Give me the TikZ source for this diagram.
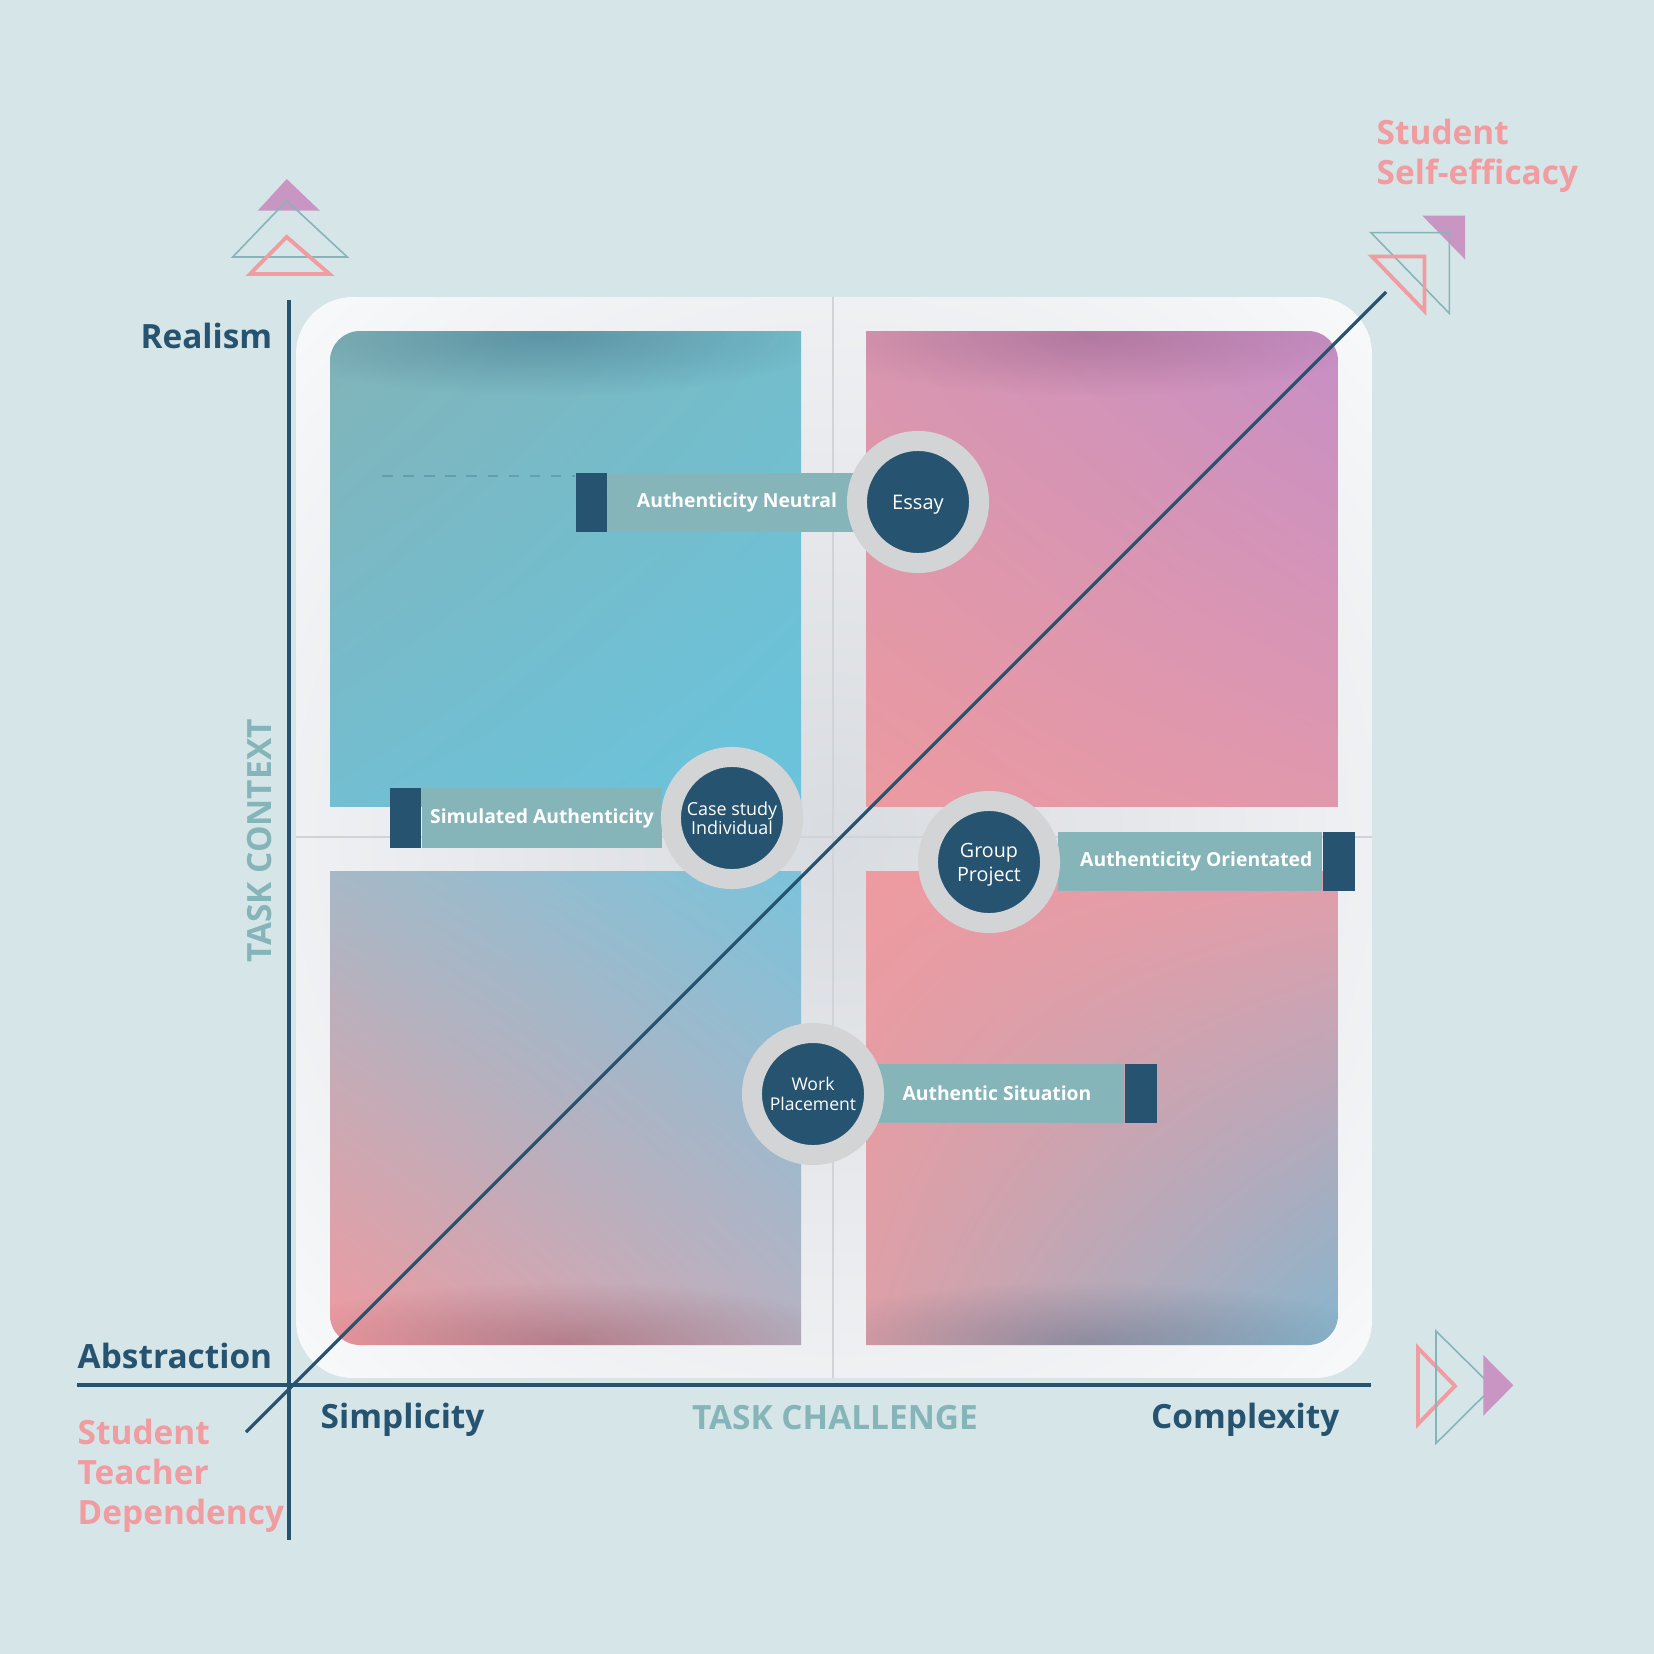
\documentclass[tikz,border=0pt]{standalone}
\usepackage{fontspec}
\setmainfont{Open Sans}
\usetikzlibrary{fadings,shadings}

\definecolor{bgblue}{HTML}{D6E5E8}
\definecolor{navy}{HTML}{26536F}
\definecolor{barteal}{HTML}{85B5B9}
\definecolor{rose}{HTML}{F09CA0}
\definecolor{mauve}{HTML}{C996C3}
\definecolor{ringgray}{HTML}{D2D4D6}
\definecolor{framewhite}{HTML}{F7F8FA}
\definecolor{lanegray}{HTML}{D9DCE0}
\definecolor{laneline}{HTML}{D0D3D7}
% quadrant corners
\definecolor{tlA}{HTML}{82B3B8}\definecolor{tlB}{HTML}{74BDCB}\definecolor{tlC}{HTML}{73BED1}\definecolor{tlD}{HTML}{69C4DD}
\definecolor{trA}{HTML}{D896B0}\definecolor{trB}{HTML}{C78FC6}\definecolor{trC}{HTML}{EB9AA0}\definecolor{trD}{HTML}{E098AD}
\definecolor{blA}{HTML}{A7B8C6}\definecolor{blB}{HTML}{7BC3DB}\definecolor{blC}{HTML}{EF9AA0}\definecolor{blD}{HTML}{B8B2C2}
\definecolor{brA}{HTML}{EE9AA0}\definecolor{brB}{HTML}{E49DAA}\definecolor{brC}{HTML}{DCA0A8}\definecolor{brD}{HTML}{86B6CD}
\definecolor{trshadow}{HTML}{7A4A70}
\definecolor{blshadow}{HTML}{7A3848}
\definecolor{brshadow}{HTML}{3A4A66}

\tikzfading[name=soft glow, inner color=transparent!0, outer color=transparent!100]

\begin{document}
\begin{tikzpicture}[x=0.01cm,y=-0.01cm,
    ring/.style={circle,fill=navy,draw=ringgray,line width=0.2cm,minimum size=1.22cm,inner sep=0pt,text=white,align=center},
    bar/.style={fill=barteal,minimum height=0.59cm,inner sep=0pt,text=white,font=\fontsize{5.5}{6.5}\selectfont\bfseries},
    endblock/.style={fill=navy,minimum height=0.59cm,minimum width=0.31cm,inner sep=0pt},
    axislabel/.style={inner sep=0pt,text=navy,font=\fontsize{9.5}{11.4}\selectfont\bfseries},
    axistitle/.style={inner sep=0pt,text=barteal,font=\fontsize{9.5}{11.4}\selectfont\bfseries},
    effect/.style={inner sep=0pt,text=rose,align=left,font=\fontsize{9.5}{11.3}\selectfont\bfseries}]
  \fill[bgblue] (0,0) rectangle (1654,1654);
  \useasboundingbox (0,0) rectangle (1654,1654);

  % frame and lanes
  \begin{scope}
    \clip[rounded corners=0.57cm] (296,297) rectangle (1372,1378);
    \fill[framewhite] (296,297) rectangle (1372,1378);
    \fill[lanegray, path fading=soft glow] (834,838) ellipse [x radius=720, y radius=720];
    \draw[laneline, line width=0.8pt] (833,297) -- (833,1378);
    \draw[laneline, line width=0.8pt] (296,837) -- (1372,837);
  \end{scope}

  % quadrants
  \begin{scope}
    \clip (330,331) rectangle (801,806);
    \clip[rounded corners=0.3cm] (330,331) rectangle (841,846);
    \shade[upper left=tlA, upper right=tlB, lower left=tlC, lower right=tlD] (330,331) rectangle (801,806);
    \fill[navy, opacity=0.35, path fading=soft glow] (545,336) ellipse [x radius=290, y radius=60];
  \end{scope}
  \begin{scope}
    \clip (866,331) rectangle (1338,806);
    \clip[rounded corners=0.3cm] (826,331) rectangle (1338,846);
    \shade[upper left=trA, upper right=trB, lower left=trC, lower right=trD] (866,331) rectangle (1338,806);
    \fill[trshadow, opacity=0.35, path fading=soft glow] (1090,336) ellipse [x radius=290, y radius=60];
  \end{scope}
  \begin{scope}
    \clip (330,871) rectangle (801,1345);
    \clip[rounded corners=0.3cm] (330,831) rectangle (841,1345);
    \shade[upper left=blA, upper right=blB, lower left=blC, lower right=blD] (330,871) rectangle (801,1345);
    \fill[blshadow, opacity=0.35, path fading=soft glow] (565,1342) ellipse [x radius=300, y radius=60];
  \end{scope}
  \begin{scope}
    \clip (866,871) rectangle (1338,1345);
    \clip[rounded corners=0.3cm] (826,831) rectangle (1338,1345);
    \shade[upper left=brA, upper right=brB, lower left=brC, lower right=brD] (866,871) rectangle (1338,1345);
    \fill[brshadow, opacity=0.3, path fading=soft glow] (1085,1342) ellipse [x radius=300, y radius=60];
  \end{scope}

  % axes
  \coordinate (ytop) at (289,300);
  \coordinate (ybottom) at (289,1540);
  \coordinate (xleft) at (77,1385);
  \coordinate (xright) at (1371,1385);
  \coordinate (dstart) at (246,1432);
  \coordinate (dend) at (1386,292);
  \draw[navy, line width=1pt] (ytop) -- (ybottom);
  \draw[navy, line width=1pt] (xleft) -- (xright);
  \draw[navy, line width=0.9pt] (dstart) -- (dend);

  % tasks
  \node[bar, minimum width=2.58cm] (neutral) at (737,502.5) {Authenticity Neutral};
  \node[endblock, anchor=east] (neutralend) at (neutral.west) {};
  \coordinate (dashstart) at (382,476);
  \draw[navy, opacity=0.25, dashed, line width=0.4pt] (dashstart) -- (dashstart -| neutralend.west);
  \node[ring, text depth=0pt, font=\fontsize{5.7}{6.5}\selectfont] (essay) at (918,502) {Essay};

  \node[bar, minimum width=2.40cm] (simulated) at (542,818) {Simulated Authenticity};
  \node[endblock, anchor=east] (simulatedend) at (simulated.west) {};
  \node[ring, font=\fontsize{5.1}{5.4}\selectfont] (casestudy) at (732,818) {Case study\\Individual};

  \node[bar, minimum width=2.64cm] (orientated) at (1190,861.5) {\hspace*{0.126cm}Authenticity Orientated};
  \node[endblock, anchor=west] (orientatedend) at (orientated.east) {};
  \node[ring, text depth=0pt, font=\fontsize{5.6}{6.9}\selectfont] (group) at (989,862) {Group\\Project};

  \node[bar, minimum width=2.54cm] (situation) at (997,1093.5) {Authentic Situation};
  \node[endblock, anchor=west] (situationend) at (situation.east) {};
  \node[ring, font=\fontsize{5.0}{5.7}\selectfont] (work) at (813,1094) {Work\\Placement};

  % labels
  \node[axislabel, anchor=east] (realism) at (273,336) {Realism};
  \node[axislabel, anchor=west] (abstraction) at (77,1356) {Abstraction};
  \node[axislabel, anchor=west] (simplicity) at (320,1420) {Simplicity};
  \node[axislabel, anchor=east] (complexity) at (1340,1420) {Complexity};
  \node[axistitle] (challenge) at (835,1418) {TASK CHALLENGE};
  \node[axistitle, rotate=90] (context) at (260,841) {TASK CONTEXT};
  \node[effect, anchor=west] (dependency) at (77,1476) {Student\\Teacher\\Dependency};
  \node[effect, anchor=west] (efficacy) at (1376,155.5) {Student\\Self-efficacy};

  % arrow marks
  \fill[mauve] (286.7,179) -- (257.7,210.7) -- (320,210.7) -- cycle;
  \draw[barteal, line width=0.45pt] (286.7,200.7) -- (232.7,257) -- (347.3,257) -- cycle;
  \draw[rose, line width=1.1pt] (286.7,237) -- (250,274) -- (329.5,274) -- cycle;

  \fill[mauve] (1422.3,215.7) -- (1465,215.7) -- (1465,259.3) -- cycle;
  \draw[barteal, line width=0.45pt] (1371,232.7) -- (1449.3,232.7) -- (1449.3,313.3) -- cycle;
  \draw[rose, line width=1.1pt] (1372,256.5) -- (1424.5,256.5) -- (1424.5,311) -- cycle;

  \draw[rose, line width=1.1pt] (1418,1348) -- (1418,1424) -- (1455,1386) -- cycle;
  \draw[barteal, line width=0.45pt] (1436,1331) -- (1436,1443.3) -- (1492.7,1387) -- cycle;
  \fill[mauve] (1483.3,1355) -- (1483.3,1415.7) -- (1513.3,1385.3) -- cycle;
\end{tikzpicture}
\end{document}
